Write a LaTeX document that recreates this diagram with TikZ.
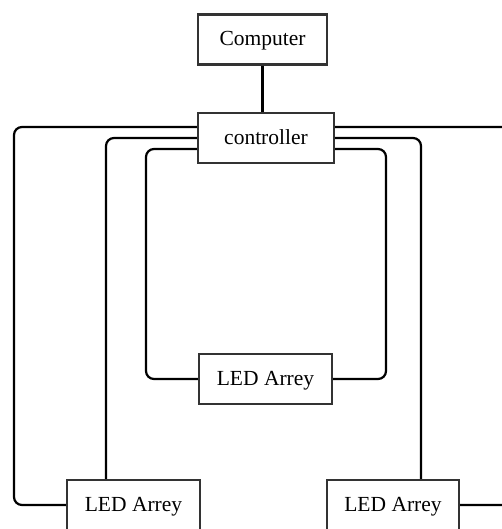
\documentclass[tikz,border=0pt]{standalone}
\usepackage{fontspec}
\setmainfont{Liberation Serif}
\begin{document}
\begin{tikzpicture}[x=1pt,y=-1pt,
  box/.style={draw=black!80,line width=2.4pt,fill=white,minimum height=50pt,inner sep=0pt,text height=14pt,text depth=1pt,font=\fontsize{21.5}{25}\selectfont},
  wire/.style={draw=black,line width=2.2pt,rounded corners=8pt}]
\useasboundingbox (0,0) rectangle (502,529);
\node[box,minimum width=129pt] (comp) at (262.5,39.5) {Computer};
\node[box,minimum width=136pt] (ctrl) at (266,138) {controller};
\node[box,minimum width=133pt] (mid) at (265.5,379) {LED Arrey};
\node[box,minimum width=133pt] (bl) at (133.5,505) {LED Arrey};
\node[box,minimum width=132pt] (br) at (393,505) {LED Arrey};
\coordinate (lx1) at (14,300);
\coordinate (lx3) at (146,300);
\coordinate (rx1) at (540,300);
\coordinate (rx3) at (386,300);
\draw[wire] (comp.south) -- (comp.south |- ctrl.north);
\draw[wire] ([yshift=11pt]ctrl.west) -| (lx1) |- (bl.west);
\draw[wire] (ctrl.west) -| ([xshift=-27.5pt]bl.north);
\draw[wire] ([yshift=-11pt]ctrl.west) -| (lx3) |- (mid.west);
\draw[wire] ([yshift=11pt]ctrl.east) -| (rx1) |- (br.east);
\draw[wire] (ctrl.east) -| ([xshift=28pt]br.north);
\draw[wire] ([yshift=-11pt]ctrl.east) -| (rx3) |- (mid.east);
\end{tikzpicture}
\end{document}
